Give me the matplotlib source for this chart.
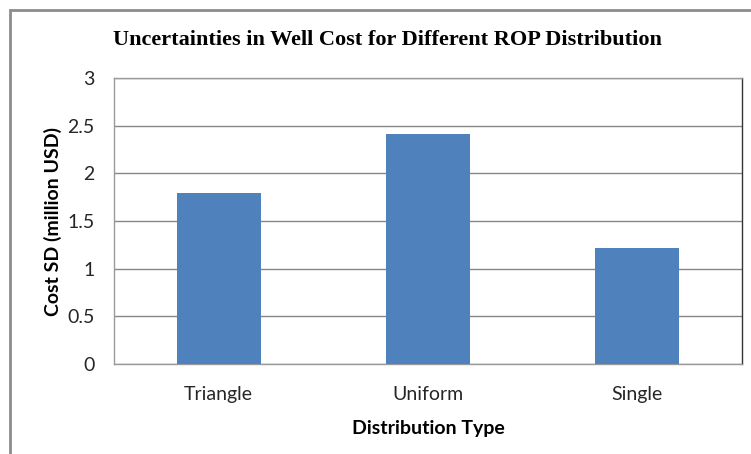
import numpy as np
import matplotlib.pyplot as plt
from matplotlib.patches import Rectangle

### data
categories = ['Triangle', 'Uniform', 'Single']
cost_sd = [1.79, 2.41, 1.22]
yticks = [0, 0.5, 1, 1.5, 2, 2.5, 3]
yticklabels = ['0', '0.5', '1', '1.5', '2', '2.5', '3']

bar_color = '#4F81BD'
grid_color = '#868686'

### figure
fig = plt.figure(figsize=(7.51, 4.54), dpi=100)
W, H = 751., 454.
ax = fig.add_axes([114/W, 1 - 364/H, (742-114)/W, (364-78)/H])

### outer chart frame (left and top only visible)
frame = Rectangle((10/W, -0.05), 1.2, 1 - 10/H + 0.05, transform=fig.transFigure,
                  fill=False, edgecolor='#8c8c8c', linewidth=2.0, zorder=0)
fig.patches.append(frame)

x = np.arange(len(categories))
ax.bar(x, cost_sd, width=0.4, color=bar_color, zorder=3)

ax.set_xlim(-0.5, 2.5)
ax.set_ylim(0, 3)
ax.set_yticks(yticks)
ax.set_yticklabels(yticklabels)
ax.set_xticks(x)
ax.set_xticklabels(categories)
ax.yaxis.grid(True, color=grid_color, linewidth=1.0, zorder=0)
ax.tick_params(axis='both', length=0, labelsize=14)
ax.tick_params(axis='y', pad=14)
ax.tick_params(axis='x', pad=16)
for lab in ax.get_xticklabels() + ax.get_yticklabels():
    lab.set_family('Lato')
    lab.set_color('#262626')

for s in ['left', 'top']:
    ax.spines[s].set_color('#9a9a9a')
ax.spines['right'].set_color('#333333')
ax.spines['bottom'].set_color('#9a9a9a')
for s in ax.spines.values():
    s.set_linewidth(1.0)

ax.set_ylabel('Cost SD (million USD)', family='Lato', fontweight='bold',
              fontsize=14, labelpad=4)
ax.set_xlabel('Distribution Type', family='Lato', fontweight='bold',
              fontsize=14, labelpad=12)

fig.text(387/W, 1 - 40/H, 'Uncertainties in Well Cost for Different ROP Distribution',
         family='Liberation Serif', fontweight='bold', fontsize=16,
         ha='center', va='center')

plt.savefig('out.png', dpi=100)
